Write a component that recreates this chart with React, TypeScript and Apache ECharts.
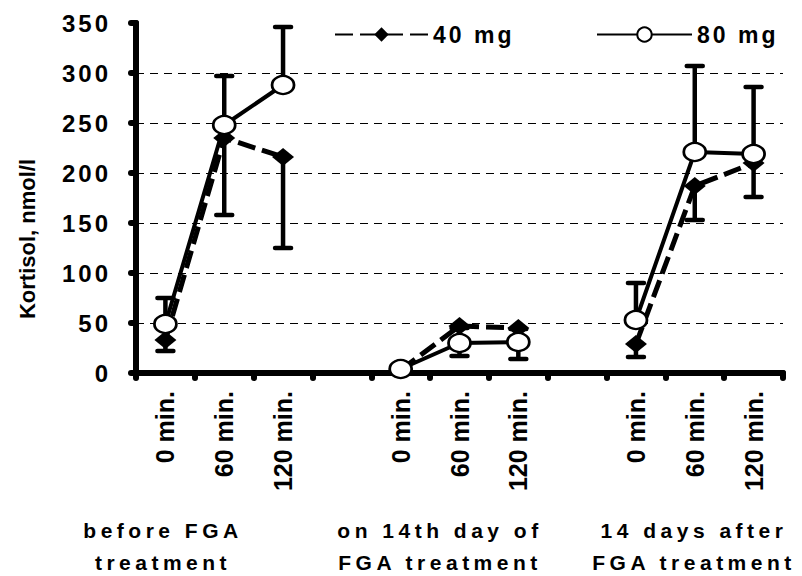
import React, { useEffect, useRef } from "react";
import * as echarts from "echarts";

const categories = ["0 min.", "60 min.", "120 min.", "", "0 min.", "60 min.", "120 min.", "", "0 min.", "60 min.", "120 min."];
const mg40 = [33, 235, 216, null, 3, 47, 45, null, 29, 187, 210];
const mg80 = [49, 248, 288, null, 4, 30, 31, null, 53, 221, 219];
const mg40Lower = [22, 158, 125, null, 3, 17, 14, null, 16, 153, 176];
const mg80Upper = [75, 297, 346, null, 5, 45, 44, null, 90, 307, 286];
const yTicks = { min: 0, max: 350, interval: 50 };
const groupLabels = ["before FGA\ntreatment", "on 14th day of\nFGA treatment", "14 days after\nFGA treatment"];
const yName = "Kortisol, nmol/l";
const seriesNames = ["40 mg", "80 mg"];

const FONT = "Liberation Sans";

function errData(means: (number | null)[], bounds: (number | null)[]) {
  const out: number[][] = [];
  means.forEach((m, i) => {
    const b = bounds[i];
    if (m != null && b != null) out.push([i, m, b]);
  });
  return out;
}

const errRender = (params: any, api: any) => {
  const x = api.value(0);
  const p1 = api.coord([x, api.value(1)]);
  const p2 = api.coord([x, api.value(2)]);
  const hw = 8;
  return {
    type: "group",
    children: [
      { type: "line", shape: { x1: p1[0], y1: p1[1], x2: p2[0], y2: p2[1] }, style: { stroke: "#000", lineWidth: 4.5 } },
      { type: "line", shape: { x1: p2[0] - hw, y1: p2[1], x2: p2[0] + hw, y2: p2[1] }, style: { stroke: "#000", lineWidth: 4.5, lineCap: "round" } },
    ],
  };
};

export default function App() {
  const ref = useRef<HTMLDivElement>(null);
  useEffect(() => {
    if (!ref.current) return;
    const chart = echarts.init(ref.current, null, { renderer: "svg" });
    const groupCenters = [163, 440, 694];
    chart.setOption({
      animation: false,
      backgroundColor: "#fff",
      grid: { left: 136, right: 19, top: 23, bottom: 203 },
      legend: [
        {
          data: [seriesNames[0]], left: 329, top: 18, itemWidth: 93, itemHeight: 18, itemGap: 0,
          textStyle: { fontFamily: FONT, fontWeight: "bold", fontSize: 23, color: "#000" },
        },
        {
          data: [seriesNames[1]], left: 591, top: 18, itemWidth: 95, itemHeight: 18, itemGap: 0,
          textStyle: { fontFamily: FONT, fontWeight: "bold", fontSize: 23, color: "#000" },
        },
      ],
      xAxis: {
        type: "category",
        data: categories,
        boundaryGap: true,
        axisLine: { lineStyle: { color: "#000", width: 6 } },
        axisTick: { show: true, interval: 0, length: 5, lineStyle: { color: "#000", width: 6, cap: "round" } },
        axisLabel: { interval: 0, rotate: 90, margin: 18, fontFamily: FONT, fontWeight: "bold", fontSize: 25, color: "#000" },
        splitLine: { show: false },
      },
      yAxis: {
        type: "value",
        min: yTicks.min, max: yTicks.max, interval: yTicks.interval,
        axisLine: { show: true, lineStyle: { color: "#000", width: 6 } },
        axisTick: { show: true, length: 5, lineStyle: { color: "#000", width: 6, cap: "round" } },
        axisLabel: { margin: 25, fontFamily: FONT, fontWeight: "bold", fontSize: 24, color: "#000" },
        splitLine: { show: true, showMinLine: false, showMaxLine: false, lineStyle: { color: "#000", width: 1, type: [8, 6] } },
      },
      graphic: [
        {
          type: "text", x: 27, y: 239, rotation: Math.PI / 2,
          style: { text: yName, textAlign: "center", textVerticalAlign: "middle", fontFamily: FONT, fontWeight: "bold", fontSize: 22, fill: "#000" },
        },
        ...groupLabels.map((t, i) => ({
          type: "text", x: groupCenters[i], y: 546,
          style: { text: t, textAlign: "center", textVerticalAlign: "middle", lineHeight: 32, fontFamily: FONT, fontWeight: "bold", fontSize: 21, fill: "#000" },
        })),
      ],
      series: [
        {
          type: "custom", name: "err40", z: 1, renderItem: errRender,
          encode: { x: 0, y: [1, 2] }, data: errData(mg40, mg40Lower), silent: true,
        },
        {
          type: "custom", name: "err80", z: 1, renderItem: errRender,
          encode: { x: 0, y: [1, 2] }, data: errData(mg80, mg80Upper), silent: true,
        },
        {
          type: "line", name: seriesNames[0], data: mg40, z: 3,
          symbol: "diamond", symbolSize: [22, 18], showAllSymbol: true,
          itemStyle: { color: "#000" },
          lineStyle: { color: "#000", width: 5, type: [18, 7] },
        },
        {
          type: "line", name: seriesNames[1], data: mg80, z: 4,
          symbol: "circle", symbolSize: [22, 18], showAllSymbol: true,
          itemStyle: { color: "#fff", borderColor: "#000", borderWidth: 2.5 },
          lineStyle: { color: "#000", width: 4 },
        },
      ],
    });
    return () => chart.dispose();
  }, []);
  return (
    <>
      <style>{`
        .kchart text[style*="24px"] { letter-spacing: 3px; }
        .kchart text[style*="23px"] { letter-spacing: 3px; }
        .kchart text[style*="21px"] { letter-spacing: 4.5px; }
      `}</style>
      <div className="kchart" ref={ref} style={{ position: "fixed", left: 0, top: 0, width: 802, height: 576 }} />
    </>
  );
}
